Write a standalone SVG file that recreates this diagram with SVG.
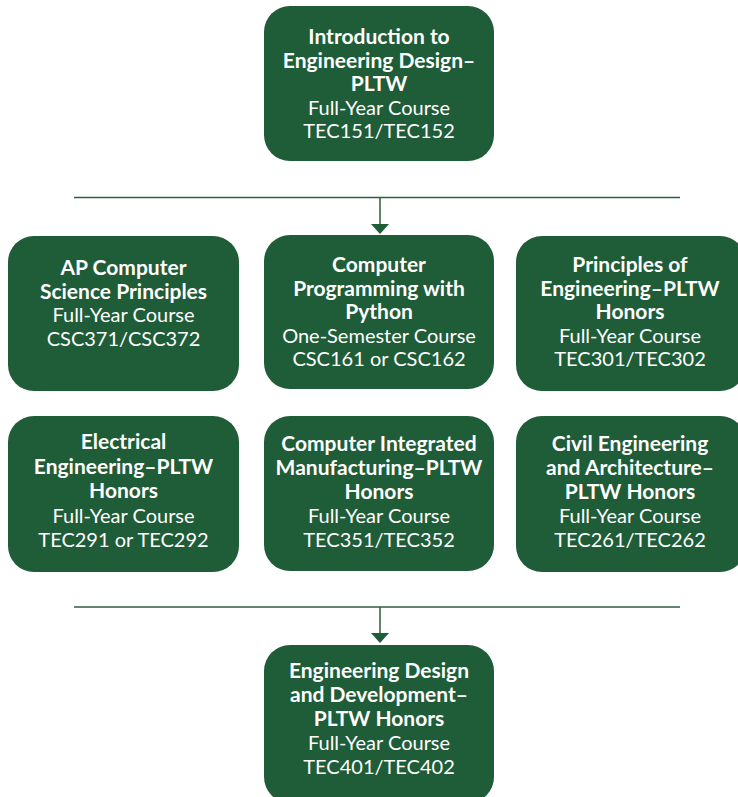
<svg xmlns="http://www.w3.org/2000/svg" width="738" height="797" viewBox="0 0 738 797">
<style>
.box{fill:#1f5c38}
.t{font-family:Lato,"Liberation Sans",sans-serif;font-size:20px;fill:#fff;text-anchor:middle}
.b{font-weight:bold;font-size:21px}
.ln{stroke:#2b5f3d;stroke-width:1.5;fill:none}
.ah{fill:#1f5c38}
</style>
<rect width="738" height="797" fill="#fff"/>
<g id="connectors">
<line class="ln" x1="74" y1="197.5" x2="680" y2="197.5"/>
<line class="ln" x1="380" y1="197.5" x2="380" y2="225"/>
<polygon class="ah" points="371,224 389,224 380,234"/>
<line class="ln" x1="74" y1="607" x2="680" y2="607"/>
<line class="ln" x1="380" y1="607" x2="380" y2="634"/>
<polygon class="ah" points="371,633 389,633 380,643"/>
</g>
<g id="intro">
<rect class="box" x="264" y="6" width="230" height="155" rx="26"/>
<text class="t" x="379" y="44"><tspan class="b">Introduction to</tspan><tspan class="b" x="379" dy="23.5">Engineering Design–</tspan><tspan class="b" x="379" dy="23.5">PLTW</tspan><tspan x="379" dy="23.5">Full-Year Course</tspan><tspan x="379" dy="23.5">TEC151/TEC152</tspan></text>
</g>
<g id="apcsp">
<rect class="box" x="8" y="236" width="231" height="155" rx="26"/>
<text class="t" x="123.5" y="275"><tspan class="b">AP Computer</tspan><tspan class="b" x="123.5" dy="23.5">Science Principles</tspan><tspan x="123.5" dy="23.5">Full-Year Course</tspan><tspan x="123.5" dy="23.5">CSC371/CSC372</tspan></text>
</g>
<g id="python">
<rect class="box" x="264" y="235" width="230" height="154" rx="26"/>
<text class="t" x="379" y="272"><tspan class="b">Computer</tspan><tspan class="b" x="379" dy="23.5">Programming with</tspan><tspan class="b" x="379" dy="23.5">Python</tspan><tspan x="379" dy="23.5">One-Semester Course</tspan><tspan x="379" dy="23.5">CSC161 or CSC162</tspan></text>
</g>
<g id="poe">
<rect class="box" x="516" y="236" width="230" height="155" rx="26"/>
<text class="t" x="630" y="272"><tspan class="b">Principles of</tspan><tspan class="b" x="630" dy="23.5">Engineering–PLTW</tspan><tspan class="b" x="630" dy="23.5">Honors</tspan><tspan x="630" dy="23.5">Full-Year Course</tspan><tspan x="630" dy="23.5">TEC301/TEC302</tspan></text>
</g>
<g id="ee">
<rect class="box" x="8" y="416" width="231" height="156" rx="26"/>
<text class="t" x="123.5" y="449"><tspan class="b">Electrical</tspan><tspan class="b" x="123.5" dy="24.5">Engineering–PLTW</tspan><tspan class="b" x="123.5" dy="24.5">Honors</tspan><tspan x="123.5" dy="24.5">Full-Year Course</tspan><tspan x="123.5" dy="24.5">TEC291 or TEC292</tspan></text>
</g>
<g id="cim">
<rect class="box" x="264" y="416" width="230" height="155" rx="26"/>
<text class="t" x="379" y="451"><tspan class="b">Computer Integrated</tspan><tspan class="b" x="379" dy="24">Manufacturing–PLTW</tspan><tspan class="b" x="379" dy="24">Honors</tspan><tspan x="379" dy="24">Full-Year Course</tspan><tspan x="379" dy="24">TEC351/TEC352</tspan></text>
</g>
<g id="cea">
<rect class="box" x="516" y="416" width="230" height="156" rx="26"/>
<text class="t" x="630" y="451"><tspan class="b">Civil Engineering</tspan><tspan class="b" x="630" dy="24">and Architecture–</tspan><tspan class="b" x="630" dy="24">PLTW Honors</tspan><tspan x="630" dy="24">Full-Year Course</tspan><tspan x="630" dy="24">TEC261/TEC262</tspan></text>
</g>
<g id="edd">
<rect class="box" x="264" y="645" width="230" height="158" rx="26"/>
<text class="t" x="379" y="678"><tspan class="b">Engineering Design</tspan><tspan class="b" x="379" dy="24">and Development–</tspan><tspan class="b" x="379" dy="24">PLTW Honors</tspan><tspan x="379" dy="24">Full-Year Course</tspan><tspan x="379" dy="24">TEC401/TEC402</tspan></text>
</g>
</svg>
